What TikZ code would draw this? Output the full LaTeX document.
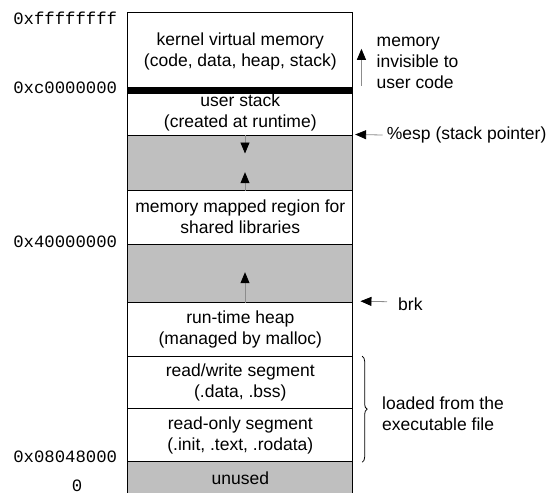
\documentclass[tikz,border=0pt]{standalone}
\usepackage{fontspec}
\setmainfont{Liberation Sans}
\setmonofont{Liberation Mono}
\usetikzlibrary{arrows.meta,decorations.pathreplacing}

\begin{document}
\begin{tikzpicture}[x=1pt,y=-1pt,
	font=\fontsize{17.5}{21}\selectfont,
	seg/.style={draw,line width=1pt,minimum width=224.7pt,align=center,inner sep=0pt},
	free/.style={seg,fill=black!25},
	addr/.style={anchor=east,inner sep=0pt,font=\fontsize{17.3}{21}\ttfamily},
	ptr/.style={draw=black!45,line width=0.8pt,-{Triangle[length=11pt,width=9pt,color=black]}},
	note/.style={anchor=west,align=left,inner sep=0pt}]
	\useasboundingbox (0,0) rectangle (550,493);
	\node[seg,minimum height=77.4pt] (kernel) at (240.3,51) {kernel virtual memory\\(code, data, heap, stack)};
	\node[seg,minimum height=45.3pt] (stack) at (240.3,112.35) {user stack\\(created at runtime)};
	\node[free,minimum height=55.3pt] (gap1) at (240.3,162.65) {};
	\node[seg,minimum height=53.7pt] (mmap) at (240.3,217.15) {memory mapped region for\\shared libraries};
	\node[free,minimum height=58.7pt] (gap2) at (240.3,273.35) {};
	\node[seg,minimum height=54pt] (heap) at (240.3,329.7) {run-time heap\\(managed by malloc)};
	\node[seg,minimum height=51.6pt] (rw) at (240.3,382.5) {read/write segment\\(.data, .bss)};
	\node[seg,minimum height=53.4pt] (ro) at (240.3,435) {read-only segment\\(.init, .text, .rodata)};
	\node[free,minimum height=32.8pt] (unused) at (240.3,478.1) {unused};
	\draw[line width=7pt] (kernel.south west) -- (kernel.south east);

	\node[addr] (atop) at (117.3,18) {0xffffffff};
	\node[addr] (akern) at (117.3,88) {0xc0000000};
	\node[addr] (ashared) at (117.3,242) {0x40000000};
	\node[addr] (atext) at (117.3,456.7) {0x08048000};
	\node[inner sep=0pt,font=\fontsize{17.3}{21}\ttfamily] (azero) at (77,486) {0};

	\draw[ptr] ([xshift=4.7pt]gap1.north) -- ([xshift=4.7pt,yshift=-19pt]gap1.north);
	\draw[ptr] ([xshift=4.7pt]gap1.south) -- ([xshift=4.7pt,yshift=18.6pt]gap1.south);
	\draw[ptr] ([xshift=4.7pt]gap2.south) -- ([xshift=4.7pt,yshift=31pt]gap2.south);

	\node[note] (invisible) at (376.5,63) {memory\\invisible to\\user code};
	\draw[ptr] ([xshift=8.3pt,yshift=4.7pt]kernel.south east) -- ([xshift=8.3pt,yshift=-37pt]kernel.north east);
	\node[note] (esp) at (386.7,135) {\%esp (stack pointer)};
	\draw[ptr] ([xshift=-4pt]esp.west) -- ([xshift=2pt]gap1.north east);
	\node[note] (brk) at (398,304.3) {brk};
	\draw[ptr] ([xshift=-11pt,yshift=2.6pt]brk.west) -- ([xshift=7.3pt,yshift=1pt]heap.north east);
	\draw[decorate,decoration={brace,amplitude=5pt},line width=0.8pt] ([xshift=9pt]rw.north east) -- ([xshift=9pt]ro.south east);
	\node[note] (loaded) at (382,414) {loaded from the\\executable file};
\end{tikzpicture}
\end{document}
